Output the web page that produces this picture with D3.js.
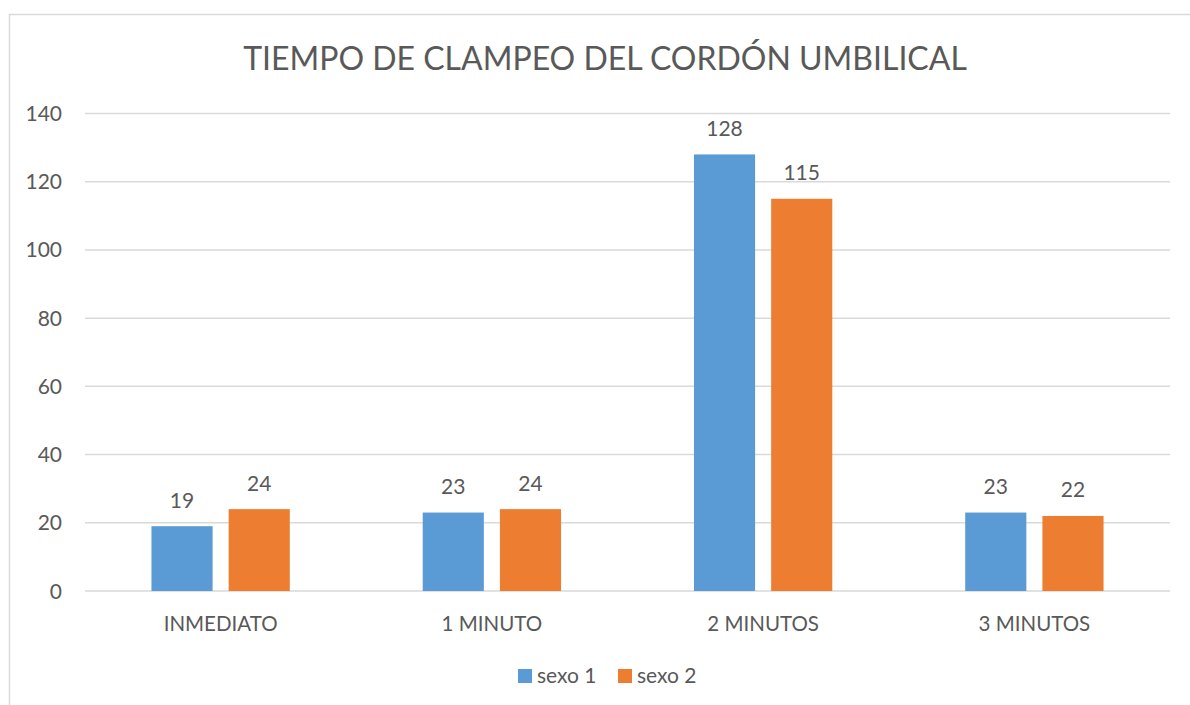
<!DOCTYPE html>
<html>
<head>
<meta charset="utf-8">
<script src="https://cdn.jsdelivr.net/npm/d3@7"></script>
<style>
  body { margin: 0; background: #fff; }
  text { font-family: Lato, "Open Sans", sans-serif; fill: #595959; }
</style>
</head>
<body>
<div id="chart"></div>
<script>
// Data
const categories = ["INMEDIATO", "1 MINUTO", "2 MINUTOS", "3 MINUTOS"];
const seriesNames = ["sexo 1", "sexo 2"];
const sexo1 = [19, 23, 128, 23];
const sexo2 = [24, 24, 115, 22];
const yTicks = [0, 20, 40, 60, 80, 100, 120, 140];
const colors = ["#5B9BD5", "#ED7D31"];

const width = 1190;
const height = 705;
const margin = { left: 85, right: 20, top: 113.5, bottom: 114 };

const rows = categories.map((c, i) => ({ cat: c, values: [sexo1[i], sexo2[i]] }));

const svg = d3.select("#chart")
  .append("svg")
    .attr("width", width)
    .attr("height", height);

// Chart border
svg.append("rect")
  .attr("x", 9.5)
  .attr("y", 14.5)
  .attr("width", 1200)
  .attr("height", 720)
  .attr("fill", "none")
  .attr("stroke", "#D9D9D9")
  .attr("stroke-width", 1.5);

// Scales
const x0 = d3.scaleBand()
  .domain(categories)
  .range([margin.left, width - margin.right])
  .paddingInner(0.49)
  .paddingOuter(0.245);

const x1 = d3.scaleBand()
  .domain(seriesNames)
  .range([0, x0.bandwidth()])
  .paddingInner(0.208);

const y = d3.scaleLinear()
  .domain([0, 140])
  .range([height - margin.bottom, margin.top]);

// Gridlines
svg.append("g")
  .selectAll("line")
  .data(yTicks)
  .join("line")
    .attr("x1", margin.left)
    .attr("x2", width - margin.right)
    .attr("y1", d => y(d))
    .attr("y2", d => y(d))
    .attr("stroke", "#D9D9D9")
    .attr("stroke-width", 1.5);

// Y axis labels
svg.append("g")
  .selectAll("text")
  .data(yTicks)
  .join("text")
    .attr("x", 62)
    .attr("y", d => y(d))
    .attr("dy", "0.36em")
    .attr("text-anchor", "end")
    .style("font-size", "21px")
    .text(d => d);

// Bars
const groups = svg.append("g")
  .selectAll("g")
  .data(rows)
  .join("g")
    .attr("transform", d => `translate(${x0(d.cat)},0)`);

groups.selectAll("rect")
  .data(d => d.values.map((v, i) => ({ key: seriesNames[i], v, i })))
  .join("rect")
    .attr("x", d => x1(d.key))
    .attr("y", d => y(d.v))
    .attr("width", x1.bandwidth())
    .attr("height", d => y(0) - y(d.v))
    .attr("fill", d => colors[d.i]);

groups.selectAll("text")
  .data(d => d.values.map((v, i) => ({ key: seriesNames[i], v, i })))
  .join("text")
    .attr("x", d => x1(d.key) + x1.bandwidth() / 2)
    .attr("y", d => y(d.v) - 18.5)
    .attr("text-anchor", "middle")
    .style("font-size", "21px")
    .text(d => d.v);

// Category labels
svg.append("g")
  .selectAll("text")
  .data(categories)
  .join("text")
    .attr("x", d => x0(d) + x0.bandwidth() / 2)
    .attr("y", 631)
    .attr("text-anchor", "middle")
    .style("font-size", "20.5px")
    .text(d => d);

// Title
svg.append("text")
  .attr("x", 605)
  .attr("y", 70)
  .attr("text-anchor", "middle")
  .style("font-size", "32px")
  .text("TIEMPO DE CLAMPEO DEL CORDÓN UMBILICAL");

// Legend
const legend = svg.append("g")
  .selectAll("g")
  .data(seriesNames)
  .join("g")
    .attr("transform", (d, i) => `translate(${518 + i * 100},669)`);

legend.append("rect")
  .attr("width", 14)
  .attr("height", 14)
  .attr("fill", (d, i) => colors[i]);

legend.append("text")
  .attr("x", 19)
  .attr("y", 14)
  .style("font-size", "21px")
  .text(d => d);
</script>
</body>
</html>
